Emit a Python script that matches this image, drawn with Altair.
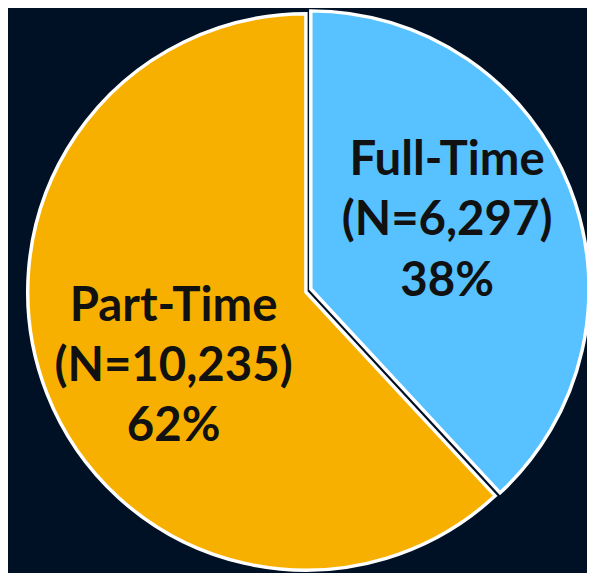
import altair as alt
import pandas as pd

categories = ["Full-Time", "Part-Time"]
counts = [6297, 10235]
labels = ["Full-Time\n(N=6,297)\n38%", "Part-Time\n(N=10,235)\n62%"]
order_idx = [0, 1]
colors = ["#57C2FF", "#F8B000"]

df = pd.DataFrame({"cat": categories, "n": counts, "label": labels, "idx": order_idx})

BG = "#001126"
R = 282
CX, CY = 302, 284

base = alt.Chart(df).encode(
    theta=alt.Theta("n:Q", stack=True),
    order=alt.Order("idx:Q"),
    x=alt.value(CX),
    y=alt.value(CY),
)

color = alt.Color("cat:N", scale=alt.Scale(domain=categories, range=colors), legend=None)

part = base.mark_arc(outerRadius=R, stroke="white", strokeWidth=3.5).encode(
    color=color,
    opacity=alt.condition(alt.datum.cat == "Part-Time", alt.value(1), alt.value(0)),
)
full = base.mark_arc(outerRadius=R, stroke="white", strokeWidth=3.5, xOffset=5, yOffset=-3).encode(
    color=color,
    opacity=alt.condition(alt.datum.cat == "Full-Time", alt.value(1), alt.value(0)),
)

txt_common = dict(radius=157, font="Lato", fontWeight="bold", fontSize=48,
                  lineBreak="\n", lineHeight=61, color="#111111", align="center", baseline="middle")
full_txt = base.mark_text(dx=-3, dy=-75, **txt_common).encode(
    text="label:N",
    opacity=alt.condition(alt.datum.cat == "Full-Time", alt.value(1), alt.value(0)),
)
part_txt = base.mark_text(dx=12, dy=-42, **txt_common).encode(
    text="label:N",
    opacity=alt.condition(alt.datum.cat == "Part-Time", alt.value(1), alt.value(0)),
)

chart = alt.layer(part, full, full_txt, part_txt).properties(
    width=587, height=565, background=BG, padding=0,
    autosize=alt.AutoSizeParams(type="none"),
).configure_view(stroke=None)

chart.save("out.html", embed_options={"renderer": "svg", "actions": False})
